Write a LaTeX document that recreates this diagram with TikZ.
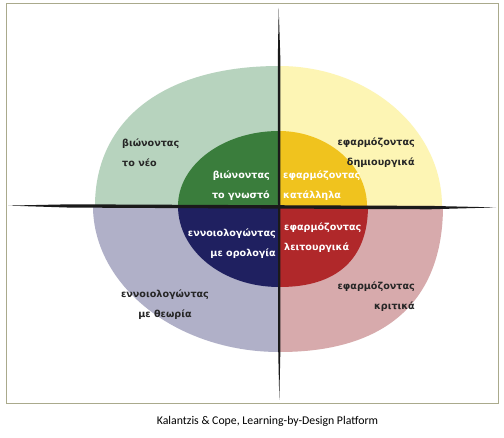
\documentclass[tikz,border=0pt]{standalone}
\usepackage{fontspec}
\setmainfont{DejaVu Sans}
\newfontfamily\capfont{Carlito}
\definecolor{gOut}{RGB}{183,211,190}
\definecolor{yOut}{RGB}{253,245,180}
\definecolor{lOut}{RGB}{176,176,200}
\definecolor{pOut}{RGB}{215,170,172}
\definecolor{gIn}{RGB}{58,125,60}
\definecolor{yIn}{RGB}{240,195,30}
\definecolor{nIn}{RGB}{31,32,96}
\definecolor{rIn}{RGB}{176,40,42}
\definecolor{axis}{RGB}{26,26,26}
\definecolor{frameC}{RGB}{170,170,140}
\tikzset{
  lbl/.style={font=\bfseries\fontsize{9.6}{20}\selectfont, inner sep=0pt, text=black!85},
  wlbl/.style={lbl, text=white},
}
\begin{document}
\begin{tikzpicture}[x=1pt,y=-1pt]
\useasboundingbox (0,0) rectangle (504,438);
\fill[white] (0,0) rectangle (504,438);
% outer quadrants
\fill[gOut] (279,206) -- (95,206) .. controls (95,119) and (165,66) .. (279,66) -- cycle;
\fill[yOut] (279,206) -- (279,66) .. controls (369,66) and (442,129) .. (442,206) -- cycle;
\fill[pOut] (279,206) -- (443,206) .. controls (443,301) and (386,352) .. (280,352) -- cycle;
\fill[lOut] (279,206) -- (279,352) .. controls (177,352) and (93,286) .. (93,206) -- cycle;
% inner quadrants
\fill[gIn] (279,206) -- (178,206) .. controls (178,165) and (223,131) .. (279,131) -- cycle;
\fill[yIn] (279,206) -- (279,131) .. controls (327,131) and (367,165) .. (367,206) -- cycle;
\fill[rIn] (279,206) -- (368,206) .. controls (368,259) and (337,287) .. (280,287) -- cycle;
\fill[nIn] (279,206) -- (279,287) .. controls (223,287) and (178,251) .. (178,206) -- cycle;
% axes
\fill[axis] (8,205.6) -- (70,204.3) -- (430,205.9) -- (496,207.4) -- (430,209.3) -- (70,207.6) -- cycle;
\fill[axis] (278.7,8) -- (277.8,60) -- (278.2,350) -- (279.3,400) -- (280.4,350) -- (280.4,60) -- cycle;
% outer labels
\node[lbl, anchor=west, align=left] (neo) at (122,153) {βιώνοντας\\το νέο};
\node[lbl, anchor=east, align=right] (dimiourgika) at (415,153) {εφαρμόζοντας\\δημιουργικά};
\node[lbl, anchor=center, align=center] (theoria) at (165,305) {εννοιολογώντας\\με θεωρία};
\node[lbl, anchor=east, align=right] (kritika) at (415,296.5) {εφαρμόζοντας\\κριτικά};
% inner labels
\node[wlbl, anchor=east, align=right] (gnosto) at (270,186) {βιώνοντας\\το γνωστό};
\node[wlbl, anchor=west, align=left] (katallila) at (283,186) {εφαρμόζοντας\\κατάλληλα};
\node[wlbl, anchor=east, align=right] (orologia) at (276,244) {εννοιολογώντας\\με ορολογία};
\node[wlbl, anchor=west, align=left] (leitourgika) at (284,238) {εφαρμόζοντας\\λειτουργικά};
% frame and caption
\draw[frameC, line width=0.8pt] (6,3) rectangle (498,403);
\node[font=\capfont\fontsize{11.8}{14}\selectfont, inner sep=0pt] (caption) at (267.5,421) {Kalantzis \& Cope, Learning-by-Design Platform};
\end{tikzpicture}
\end{document}
